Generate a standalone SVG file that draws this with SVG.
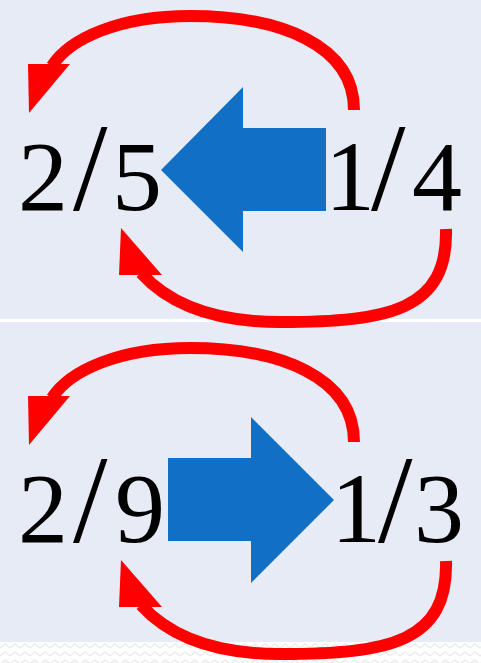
<svg xmlns="http://www.w3.org/2000/svg" width="481" height="663" viewBox="0 0 481 663">
  <style>
    .panel { fill: #E7EBF6; }
    .frac { font-family: "Liberation Serif", "Times New Roman", serif; font-size: 100px; fill: #000; }
    .frac .sl { font-size: 124px; }
    .loop { fill: none; stroke: #FF0000; stroke-width: 12; stroke-linecap: butt; }
    .head { fill: #FF0000; }
    .big { fill: #1170C6; }
  </style>
  <defs>
    <pattern id="zigzag" x="0" y="642" width="10" height="8" patternUnits="userSpaceOnUse">
      <polyline points="0,6 5,2 10,6" fill="none" stroke="#ECECEC" stroke-width="1.5"/>
    </pattern>
  </defs>

  <!-- page and panels -->
  <rect x="0" y="0" width="481" height="663" fill="#FFFFFF"/>
  <rect x="0" y="642" width="481" height="21" fill="url(#zigzag)"/>
  <rect class="panel" x="0" y="0" width="481" height="319"/>
  <rect class="panel" x="0" y="322" width="481" height="320"/>

  <!-- upper panel: 1/4 to 2/5 -->
  <g id="top-from" class="frac"><text y="210"><tspan x="325">1</tspan><tspan class="sl" x="371">/</tspan><tspan x="412">4</tspan></text></g>
  <g id="top-to" class="frac"><text y="210"><tspan x="18">2</tspan><tspan class="sl" x="73">/</tspan><tspan x="112">5</tspan></text></g>
  <g id="top-arrow">
    <polygon class="big" points="326,128 243,128 243,87 161,170 243,252 243,211 326,211"/>
  </g>

  <!-- lower panel: 2/9 to 1/3 -->
  <g id="bottom-from" class="frac"><text y="542"><tspan x="18">2</tspan><tspan class="sl" x="73">/</tspan><tspan x="115">9</tspan></text></g>
  <g id="bottom-to" class="frac"><text y="542"><tspan x="331">1</tspan><tspan class="sl" x="378">/</tspan><tspan x="414">3</tspan></text></g>
  <g id="bottom-arrow">
    <polygon class="big" points="168,458 251,458 251,417 334,500 251,583 251,541 168,541"/>
  </g>

  <!-- curved connectors -->
  <g id="connectors">
    <g id="top-panel-loops">
      <path class="loop" d="M354,110 C354,45 280,16 190,16 C120,16 70,38 52,66"/>
      <polygon class="head" points="28,64 70,64 29,113"/>
      <path class="loop" d="M446,229 C448,310 390,322 280,322 C215,322 170,305 141,273"/>
      <polygon class="head" points="119,275 162,275 121,228"/>
    </g>
    <g id="bottom-panel-loops" transform="translate(0,332)">
      <path class="loop" d="M354,110 C354,45 280,16 190,16 C120,16 70,38 52,66"/>
      <polygon class="head" points="28,64 70,64 29,113"/>
      <path class="loop" d="M446,229 C448,310 390,322 280,322 C215,322 170,305 141,273"/>
      <polygon class="head" points="119,275 162,275 121,228"/>
    </g>
  </g>
</svg>
